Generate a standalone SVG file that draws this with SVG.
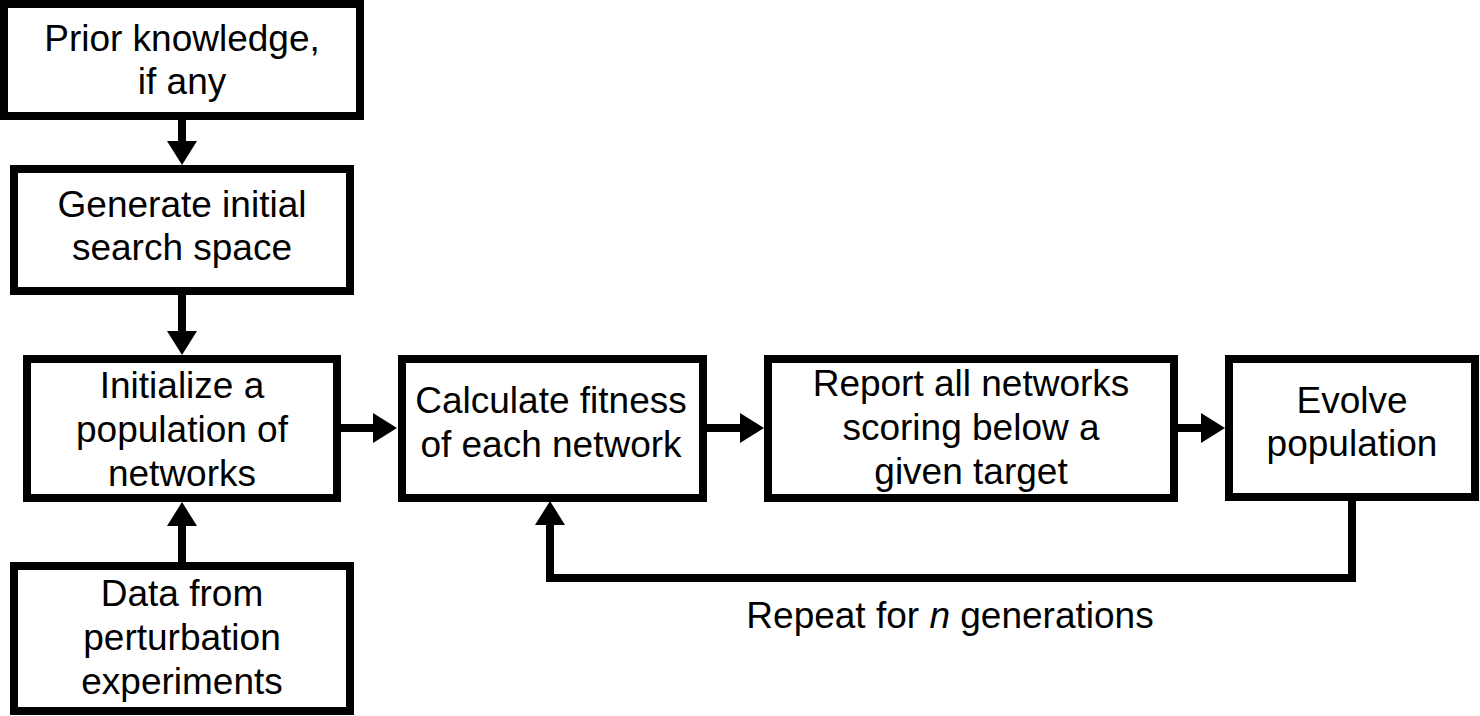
<svg xmlns="http://www.w3.org/2000/svg" width="1480" height="716" viewBox="0 0 1480 716">
<style>
  .box { fill: #ffffff; stroke: #000000; stroke-width: 8; }
  .lbl { font-family: "Liberation Sans", Arial, sans-serif; font-size: 37px; fill: #000000; text-anchor: middle; }
  .conn { fill: none; stroke: #000000; stroke-width: 8; }
</style>
<defs>
  <marker id="arrow" markerUnits="userSpaceOnUse" markerWidth="24" markerHeight="30" refX="12" refY="15" orient="auto" viewBox="0 0 24 30">
    <path d="M0,0 L24,15 L0,30 Z" fill="#000000"/>
  </marker>
</defs>
<rect width="1480" height="716" fill="#ffffff"/>

<g id="connectors">
  <line class="conn" x1="182" y1="116" x2="182" y2="153" marker-end="url(#arrow)"/>
  <line class="conn" x1="182" y1="291" x2="182" y2="343" marker-end="url(#arrow)"/>
  <line class="conn" x1="182" y1="566" x2="182" y2="514" marker-end="url(#arrow)"/>
  <line class="conn" x1="337" y1="428" x2="385" y2="428" marker-end="url(#arrow)"/>
  <line class="conn" x1="703" y1="428" x2="752" y2="428" marker-end="url(#arrow)"/>
  <line class="conn" x1="1174" y1="428" x2="1213" y2="428" marker-end="url(#arrow)"/>
  <path class="conn" d="M1352,497 V578 H550 V513" marker-end="url(#arrow)"/>
  <text class="lbl" x="950" y="628">Repeat for <tspan font-style="italic">n</tspan> generations</text>
</g>

<g id="prior">
  <rect class="box" x="4" y="4" width="356" height="112"/>
  <text class="lbl" x="182" y="51">Prior knowledge,</text>
  <text class="lbl" x="182" y="94">if any</text>
</g>

<g id="generate">
  <rect class="box" x="14" y="169" width="336" height="122"/>
  <text class="lbl" x="182" y="217">Generate initial</text>
  <text class="lbl" x="182" y="260">search space</text>
</g>

<g id="initialize">
  <rect class="box" x="27" y="359" width="310" height="139"/>
  <text class="lbl" x="182" y="398">Initialize a</text>
  <text class="lbl" x="182" y="442">population of</text>
  <text class="lbl" x="182" y="486">networks</text>
</g>

<g id="data">
  <rect class="box" x="14" y="566" width="336" height="145"/>
  <text class="lbl" x="182" y="606">Data from</text>
  <text class="lbl" x="182" y="650">perturbation</text>
  <text class="lbl" x="182" y="694">experiments</text>
</g>

<g id="calculate">
  <rect class="box" x="402" y="359" width="301" height="139"/>
  <text class="lbl" x="551" y="413">Calculate fitness</text>
  <text class="lbl" x="551" y="457">of each network</text>
</g>

<g id="report">
  <rect class="box" x="768" y="359" width="406" height="139"/>
  <text class="lbl" x="971" y="396">Report all networks</text>
  <text class="lbl" x="971" y="440">scoring below a</text>
  <text class="lbl" x="971" y="484">given target</text>
</g>

<g id="evolve">
  <rect class="box" x="1229" y="359" width="246" height="138"/>
  <text class="lbl" x="1352" y="413">Evolve</text>
  <text class="lbl" x="1352" y="456">population</text>
</g>
</svg>
